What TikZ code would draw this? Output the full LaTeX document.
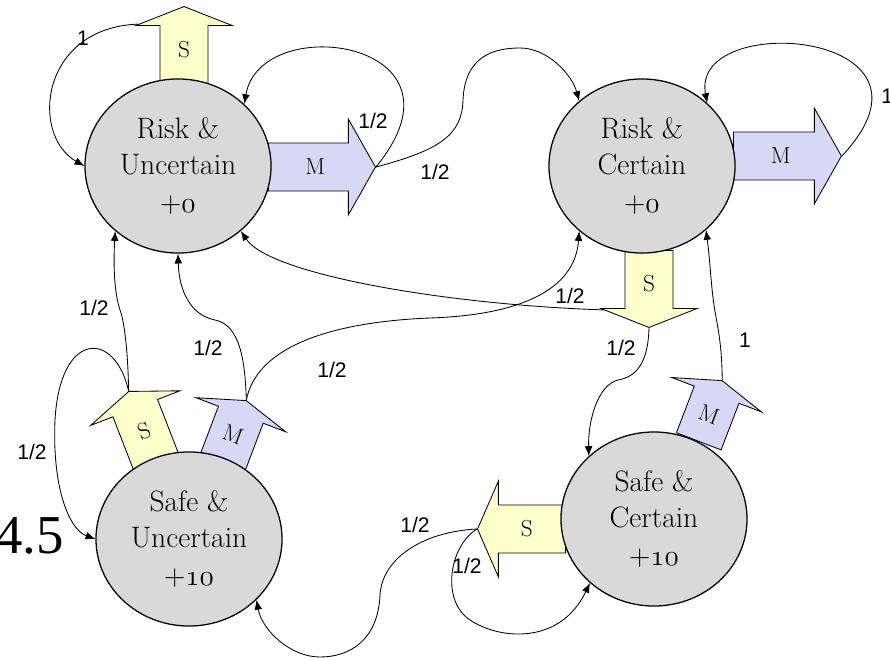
\documentclass[tikz,border=0pt]{standalone}
\usepackage{fontspec}
\usepackage{tikz}
\usetikzlibrary{shapes.geometric,shapes.arrows,arrows.meta}

\newfontfamily\lblfont{Liberation Sans}
\newfontfamily\bigfont{Liberation Serif}
\newcommand\osnum[1]{{\usefont{OML}{cmm}{m}{it}#1}}
\definecolor{grigio}{HTML}{D9D9D9}
\definecolor{giallo}{HTML}{FFFFCC}
\definecolor{lilla}{HTML}{D6D8F5}

\begin{document}
\begin{tikzpicture}[x=0.025cm, y=-0.025cm,
  stato/.style={ellipse, draw, line width=0.9pt, fill=grigio, minimum width=4.65cm, minimum height=4.35cm, inner sep=0pt, align=center, font=\fontsize{21}{25}\selectfont},
  freccia/.style={single arrow, draw, line width=0.6pt, single arrow head extend=0.6cm, single arrow tip angle=137, text width=0.6cm, align=center, text height=0.39cm, text depth=0.01cm, font=\fontsize{16.5}{16.5}\selectfont, anchor=tail},
  orizz/.style={freccia, inner xsep=0.05cm, inner ysep=0.3875cm},
  vert/.style={freccia, inner xsep=0.2875cm, inner ysep=0.05cm},
  arco/.style={-{Latex[length=7pt,width=5.5pt]}, line width=0.6pt},
  prob/.style={font=\lblfont\fontsize{15}{15}\selectfont, inner sep=0pt}]

\useasboundingbox (0,0) rectangle (890,658);

% azioni
\node[vert, fill=giallo, minimum height=1.925cm, shape border rotate=90] (RUs) at (184,84) {S};
\node[orizz, fill=lilla, minimum height=2.675cm, single arrow tip angle=121] (RUm) at (268,167) {M};
\node[orizz, fill=lilla, minimum height=2.7cm, single arrow tip angle=121] (RCm) at (733,156) {M};
\node[vert, fill=giallo, minimum height=1.925cm, shape border rotate=270] (RCs) at (649,250) {S};
\node[orizz, fill=giallo, minimum height=2.2cm, shape border rotate=180, single arrow tip angle=133] (SCs) at (566,529) {S};
\node[vert, fill=lilla, minimum height=1.625cm, shape border rotate=90, rotate=-21, single arrow tip angle=145] (SCm) at (698.6,441.7) {M};
\node[vert, fill=giallo, minimum height=1.9cm, shape border rotate=90, rotate=21.2, single arrow tip angle=139] (SUs) at (156.4,462.7) {S};
\node[vert, fill=lilla, minimum height=1.65cm, shape border rotate=90, rotate=-20.8, single arrow tip angle=145] (SUm) at (222.6,462.7) {M};

% stati
\node[stato] (RU) at (178,166) {Risk \&\\Uncertain\\[2pt]+\osnum{0}};
\node[stato] (RC) at (642,166) {Risk \&\\Certain\\[2pt]+\osnum{0}};
\node[stato] (SU) at (189,539) {Safe \&\\Uncertain\\[2pt]+\osnum{10}};
\node[stato] (SC) at (654,519) {Safe \&\\Certain\\[2pt]+\osnum{10}};

\node[font=\bigfont\fontsize{39}{39}\selectfont, inner sep=0pt, anchor=base east] (val) at (64,553) {4.5};

% archi
\draw[arco] ([xshift=-1.15cm,yshift=-0.45cm]RUs.tip) .. controls (40,28) and (30,135) .. (RU.west);
\draw[arco] (RUm.tip) .. controls (480,40) and (260,10) .. (RU.43);
\draw[arco] (RUm.tip) .. controls (440,150) and (462,135) .. (463,100) .. controls (465,55) and (495,48) .. (520,48) .. controls (548,48) and (572,75) .. (RC.134);
\draw[arco] (RCm.tip) .. controls (960,30) and (690,10) .. (RC.44);
\draw[arco] ([xshift=-1.125cm,yshift=0.45cm]RCs.tip) .. controls (450,305) and (270,275) .. (RU.-46);
\draw[arco] (RCs.tip) .. controls (648,365) and (635,377) .. (618,380) .. controls (598,385) and (588,420) .. (SC.136);
\draw[arco] (SCm.tip) .. controls (722,340) and (716,320) .. (714,305) .. controls (711,285) and (710,260) .. (RC.-45);
\draw[arco] (SUs.tip) .. controls (128,350) and (124,320) .. (120,310) .. controls (115,295) and (113,270) .. (RU.226);
\draw[arco] (SUs.tip) .. controls (115,330) and (60,330) .. (55,420) .. controls (52,490) and (70,530) .. (SU.west);
\draw[arco] (SUm.tip) .. controls (245,360) and (240,325) .. (215,320) .. controls (190,315) and (179,290) .. (RU.south);
\draw[arco] (SUm.tip) .. controls (260,330) and (380,320) .. (430,318) .. controls (520,315) and (575,290) .. (RC.226);
\draw[arco] (SCs.tip) .. controls (420,532) and (382,560) .. (380,595) .. controls (378,640) and (350,657) .. (320,657) .. controls (290,657) and (262,630) .. (SU.-42);
\draw[arco] (SCs.tip) .. controls (450,545) and (440,600) .. (470,620) .. controls (500,640) and (560,645) .. (SC.225);

% probabilita
\node[prob] (p1) at (83,38) {1};
\node[prob] (p2) at (373,121) {1/2};
\node[prob] (p3) at (435,172) {1/2};
\node[prob, anchor=west] (p4) at (881,96) {1};
\node[prob] (p5) at (94,308) {1/2};
\node[prob] (p6) at (208,348) {1/2};
\node[prob] (p7) at (332,370) {1/2};
\node[prob] (p8) at (32,452) {1/2};
\node[prob] (p9) at (570,296) {1/2};
\node[prob] (p10) at (621,348) {1/2};
\node[prob] (p11) at (745,340) {1};
\node[prob] (p12) at (415,525) {1/2};
\node[prob] (p13) at (467,566) {1/2};

\end{tikzpicture}
\end{document}
